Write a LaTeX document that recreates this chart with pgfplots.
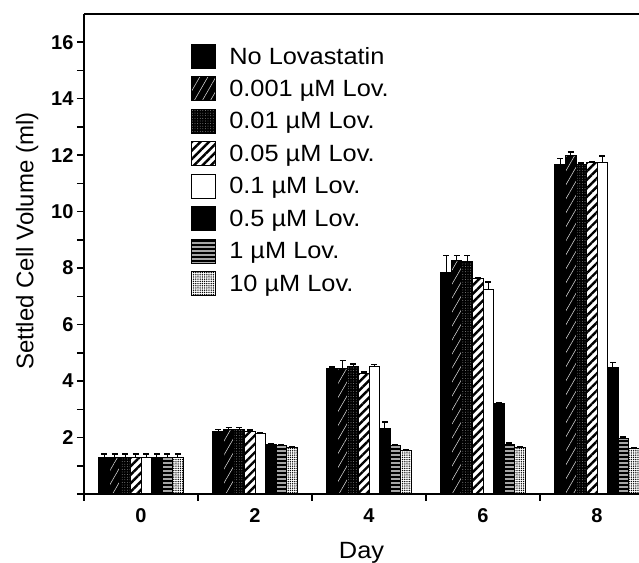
\documentclass[border=0pt]{standalone}
\usepackage{fontspec}
\setmainfont{Liberation Sans}
\newfontfamily\widefont{Liberation Sans}[FakeStretch=1.08]
\usepackage{pgfplots}
\usepackage{pgfplotstable}
\pgfplotsset{compat=1.18}
\usetikzlibrary{patterns,patterns.meta,calc}

\pgfplotstableread{
x y e
0 1.30 0.12
1 2.20 0.09
2 4.46 0.04
3 7.85 0.60
4 11.68 0.20
}\tA
\pgfplotstableread{
x y e
0 1.30 0.12
1 2.27 0.08
2 4.46 0.26
3 8.28 0.17
4 12.00 0.12
}\tB
\pgfplotstableread{
x y e
0 1.30 0.12
1 2.27 0.08
2 4.52 0.09
3 8.25 0.20
4 11.68 0.04
}\tC
\pgfplotstableread{
x y e
0 1.30 0.12
1 2.20 0.07
2 4.28 0.04
3 7.62 0.04
4 11.74 0.04
}\tD
\pgfplotstableread{
x y e
0 1.30 0.12
1 2.15 0.03
2 4.52 0.07
3 7.24 0.26
4 11.74 0.23
}\tE
\pgfplotstableread{
x y e
0 1.30 0.12
1 1.75 0.03
2 2.33 0.22
3 3.20 0.04
4 4.48 0.18
}\tF
\pgfplotstableread{
x y e
0 1.30 0.12
1 1.70 0.03
2 1.72 0.03
3 1.77 0.03
4 1.98 0.03
}\tG
\pgfplotstableread{
x y e
0 1.30 0.12
1 1.65 0.03
2 1.53 0.03
3 1.64 0.03
4 1.62 0.03
}\tH

\begin{document}
\begin{tikzpicture}
\begin{axis}[
  name=ax,
  scale only axis,
  width=555pt, height=480pt,
  xmin=-0.5, xmax=4.368,
  ymin=0, ymax=17,
  ybar=0pt, bar width=0.0923,
  axis x line*=box, axis y line*=left,
  axis line style={-, line width=1.5pt, black},
  tick align=outside,
  tick style={line width=1.5pt, black},
  major tick length=7pt, minor tick length=7pt,
  ytick={2,4,...,16}, minor ytick={0,1,3,5,7,9,11,13,15},
  xtick={0,1,2,3,4}, xticklabels={0,2,4,6,8},
  major x tick style={draw=none},
  minor xtick={-0.5,0.5,1.5,2.5,3.5},
  xtick pos=bottom,
  /pgf/number format/assume math mode=true,
  ticklabel style={font=\fontsize{20}{24}\selectfont\bfseries},
  xticklabel style={anchor=base, yshift=-22pt},
  xlabel={Day}, ylabel={Settled Cell Volume (ml)},
  xlabel style={font=\widefont\fontsize{23.5}{27}\selectfont, at={(axis description cs:0.5,-0.122)}, anchor=center},
  ylabel style={font=\fontsize{24}{28}\selectfont, at={(axis description cs:-0.1025,0.527)}, anchor=center},
  legend image code/.code={\draw[#1, draw=black, line width=1pt] (0pt,-12pt) rectangle (24pt,12pt);},
  legend style={at={(axis description cs:0.193,0.938)}, anchor=north west,
    draw=none, fill=none, inner sep=0pt, row sep=7.5pt,
    font=\widefont\fontsize{23.5}{27}\selectfont,
    nodes={inner sep=1pt},
    /tikz/every odd column/.append style={column sep=12pt}},
  legend cell align=left,
  every axis plot/.append style={draw=black, line width=1pt},
  error bars/y dir=plus, error bars/y explicit,
  error bars/error bar style={line width=1.3pt, black, solid},
  error bars/error mark options={rotate=90, mark size=3pt, line width=1.5pt, black},
]
\addplot[fill=black] table[x=x,y=y,y error=e] {\tA};
\addlegendentry{No Lovastatin}
\addplot[fill=black, postaction={pattern={Lines[angle=60,distance=7pt,line width=0.55pt]}, pattern color=white!85!black}] table[x=x,y=y,y error=e] {\tB};
\addlegendentry{0.001 µM Lov.}
\addplot[fill=black, postaction={pattern={Dots[radius=0.45pt,distance=2.6pt]}, pattern color=white!60!black}] table[x=x,y=y,y error=e] {\tC};
\addlegendentry{0.01 µM Lov.}
\addplot[fill=white, postaction={pattern={Lines[angle=45,distance=6pt,line width=2.4pt]}, pattern color=black}] table[x=x,y=y,y error=e] {\tD};
\addlegendentry{0.05 µM Lov.}
\addplot[fill=white] table[x=x,y=y,y error=e] {\tE};
\addlegendentry{0.1 µM Lov.}
\addplot[fill=black] table[x=x,y=y,y error=e] {\tF};
\addlegendentry{0.5 µM Lov.}
\addplot[fill=black, postaction={pattern={Lines[angle=0,distance=4pt,line width=1.4pt]}, pattern color=white}] table[x=x,y=y,y error=e] {\tG};
\addlegendentry{1 µM Lov.}
\addplot[fill=white, postaction={pattern={Dots[radius=0.75pt,distance=2.2pt]}, pattern color=black}] table[x=x,y=y,y error=e] {\tH};
\addlegendentry{10 µM Lov.}
\end{axis}
\pgfresetboundingbox
\path[use as bounding box] ($(ax.south west)+(-84pt,-69pt)$) rectangle ($(ax.north east)+(0pt,14pt)$);
\end{tikzpicture}
\end{document}
